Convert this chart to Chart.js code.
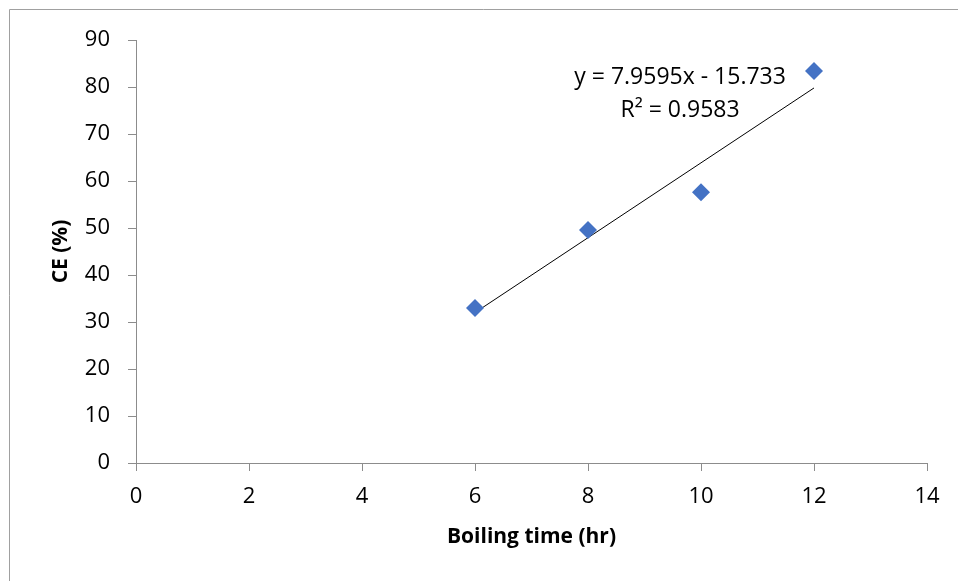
<!DOCTYPE html>
<html>
<head>
<meta charset="utf-8">
<script src="https://cdn.jsdelivr.net/npm/chart.js@4/dist/chart.umd.min.js"></script>
<style>
html,body{margin:0;padding:0;background:#fff;}
#wrap{width:958px;height:581px;position:relative;}
</style>
</head>
<body>
<div id="wrap"><canvas id="c" width="958" height="581"></canvas></div>
<script>
// Data
const boilingTime = [6, 8, 10, 12];
const cePercent = [33.0, 49.6, 57.6, 83.4];
// Linear trendline endpoints (as drawn in the reference)
const trendX = [6, 12];
const trendY = [32.0, 79.8];
const equationLines = ['y = 7.9595x - 15.733', 'R\u00B2 = 0.9583'];
const xTicks = [0, 2, 4, 6, 8, 10, 12, 14];
const yTicks = [0, 10, 20, 30, 40, 50, 60, 70, 80, 90];

const FONT = "'Open Sans', 'Noto Sans', sans-serif";
const AXIS_GRAY = '#8c8c8c';

const framePlugin = {
  id: 'frame',
  beforeDraw(chart) {
    const ctx = chart.ctx;
    ctx.save();
    ctx.fillStyle = '#fff';
    ctx.fillRect(0, 0, chart.width, chart.height);
    ctx.strokeStyle = '#a0a0a0';
    ctx.lineWidth = 1;
    ctx.beginPath();
    ctx.moveTo(9.5, chart.height);
    ctx.lineTo(9.5, 9.5);
    ctx.lineTo(chart.width, 9.5);
    ctx.stroke();
    ctx.restore();
  }
};

const equationPlugin = {
  id: 'equation',
  afterDatasetsDraw(chart) {
    const ctx = chart.ctx;
    const xs = chart.scales.x, ys = chart.scales.y;
    const px = xs.getPixelForValue(9.63);
    ctx.save();
    ctx.font = "23px " + FONT;
    ctx.fillStyle = '#000';
    ctx.textAlign = 'center';
    ctx.textBaseline = 'middle';
    ctx.fillText(equationLines[0], px, ys.getPixelForValue(82.0));
    ctx.fillText(equationLines[1], px, ys.getPixelForValue(75.0));
    ctx.restore();
  }
};

new Chart(document.getElementById('c'), {
  type: 'scatter',
  data: {
    datasets: [
      {
        label: 'CE (%)',
        data: boilingTime.map((x, i) => ({x: x, y: cePercent[i]})),
        pointStyle: 'rectRot',
        pointRadius: 9,
        pointHoverRadius: 9,
        backgroundColor: '#4472C4',
        borderColor: '#4472C4',
        borderWidth: 0,
        order: 1
      },
      {
        label: 'Linear trendline',
        type: 'line',
        data: trendX.map((x, i) => ({x: x, y: trendY[i]})),
        borderColor: '#000',
        borderWidth: 1,
        pointRadius: 0,
        fill: false,
        tension: 0,
        order: 2
      }
    ]
  },
  plugins: [framePlugin, equationPlugin],
  options: {
    responsive: false,
    animation: false,
    devicePixelRatio: 1,
    layout: { padding: { left: 0, right: 31, top: 40, bottom: 0 } },
    plugins: {
      legend: { display: false },
      tooltip: { enabled: false },
      title: { display: false }
    },
    scales: {
      x: {
        type: 'linear',
        min: 0, max: 14,
        afterBuildTicks(scale) { scale.ticks = xTicks.map(v => ({value: v})); },
        afterFit(scale) { scale.height = 118; },
        grid: { display: true, drawOnChartArea: false, drawTicks: true, tickLength: 8, color: AXIS_GRAY, lineWidth: 1 },
        border: { display: true, color: AXIS_GRAY, width: 1 },
        ticks: { color: '#000', font: { family: FONT, size: 22 }, padding: 13, maxRotation: 0 },
        title: { display: true, text: 'Boiling time (hr)', color: '#000', font: { family: FONT, size: 21, weight: 'bold' }, padding: { top: 0, bottom: 31 } }
      },
      y: {
        type: 'linear',
        min: 0, max: 90,
        afterBuildTicks(scale) { scale.ticks = yTicks.map(v => ({value: v})); },
        afterFit(scale) { scale.width = 136; },
        grid: { display: true, drawOnChartArea: false, drawTicks: true, tickLength: 8, color: AXIS_GRAY, lineWidth: 1 },
        border: { display: true, color: AXIS_GRAY, width: 1 },
        ticks: { color: '#000', font: { family: FONT, size: 22 }, padding: 18 },
        title: { display: true, text: 'CE (%)', color: '#000', font: { family: FONT, size: 21, weight: 'bold' }, padding: { top: 48, bottom: 0 } }
      }
    }
  }
});
</script>
</body>
</html>
